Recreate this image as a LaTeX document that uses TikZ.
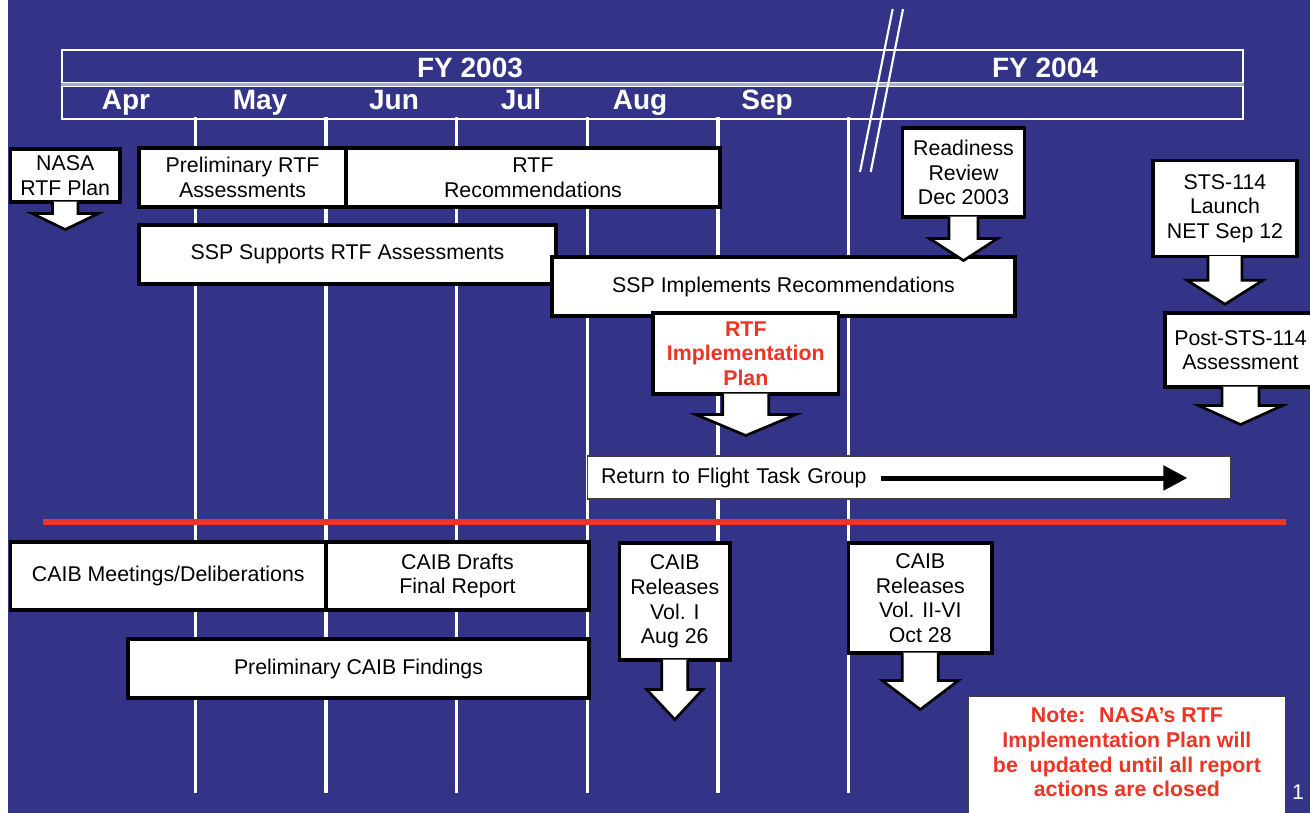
\documentclass[tikz,border=0pt]{standalone}
\usepackage{fontspec}
\setmainfont{Liberation Sans}
\usetikzlibrary{calc,arrows.meta}
\definecolor{nasablue}{HTML}{333387}
\definecolor{rtfred}{HTML}{EE3424}
\definecolor{lavender}{HTML}{A9A9DA}
\newcommand{\dropArrow}[5]{%
  \path[blockarr] ($(#1.south)+(-#2,-2)$) -- ++(0,#4+2) -- ++(#2-#3,0) -- ++(#3,#5)
    -- ++(#3,-#5) -- ++(#2-#3,0) -- ++(0,-#4-2);}

\begin{document}
\begin{tikzpicture}[x=0.75pt, y=-0.75pt,
  sz/.style 2 args={minimum width=#1*0.75pt, minimum height=#2*0.75pt},
  box/.style={draw=black, fill=white, line width=2.3pt, inner sep=2pt, align=center,
    font=\fontsize{16}{18.5}\selectfont},
  thinbox/.style={box, draw=black!75, line width=0.8pt},
  hot/.style={text=rtfred, font=\bfseries\fontsize{16}{18.5}\selectfont},
  blockarr/.style={fill=white, draw=black, line width=2pt},
  monthline/.style={white, line width=2.4pt},
  hdr/.style={text=white, font=\bfseries\fontsize{21}{24}\selectfont, anchor=base}
]
\useasboundingbox (0,0) rectangle (1310,813);
\fill[white] (0,0) rectangle (1310,813);
\fill[nasablue] (8,0) rectangle (1310,813);

\foreach \x in {195.7,326,456.6,587.5,718,848.6}
  \draw[monthline] (\x,117) -- (\x,793);

\node[draw=white, line width=2pt, sz={1181}{69}] (head) at (652.5,84.5) {};
\fill[lavender] ($(head.west)+(0,-2.3)$) rectangle ($(head.east)+(0,2.3)$);
\draw[white, line width=1.2pt] ($(head.west)+(0,-2)$) -- ($(head.east)+(0,-2)$);
\draw[white, line width=1.2pt] ($(head.west)+(0,2)$) -- ($(head.east)+(0,2)$);
\node[hdr] (fy3) at (470,77.7) {FY 2003};
\node[hdr] (fy4) at (1045,77.7) {FY 2004};
\foreach \m/\x in {Apr/126,May/260,Jun/394,Jul/521,Aug/640,Sep/767}
  \node[hdr] (m\m) at (\x,110) {\m};

\node[box, sz={109.5}{53}] (plan) at (65.25,175.5) {NASA\\RTF Plan};
\node[box, sz={207}{59}] (prelim) at (242.5,177.5) {Preliminary RTF\\Assessments};
\node[box, sz={374}{59}] (recs) at (533,177.5) {RTF\\Recommendations};
\node[box, sz={417}{59}] (sspsup) at (347.5,254.5) {SSP Supports RTF Assessments};
\node[box, sz={463}{59}] (sspimp) at (783.5,286.5) {SSP Implements Recommendations};
\node[box, sz={122}{89}] (ready) at (963.5,172.5) {Readiness\\Review\\Dec 2003};
\node[box, sz={144}{96}] (launch) at (1225,208.7) {STS-114\\Launch\\NET Sep 12};
\node[box, hot, sz={185.6}{81}] (impl) at (745.8,353.5) {RTF\\Implementation\\Plan};
\node[box, sz={151}{74}] (post) at (1240.5,350) {Post-STS-114\\Assessment};
\node[thinbox, sz={643}{43}, inner xsep=10pt, text width=462pt, align=left] (rtf)
  at (909,477.5) {Return to Flight Task Group};

\dropArrow{plan}{12.7}{33}{10}{16}
\dropArrow{ready}{14.5}{34}{20}{22}
\dropArrow{launch}{17}{38}{22}{24}
\dropArrow{impl}{23}{50}{19}{21}
\dropArrow{post}{18.5}{42}{17}{19}

\coordinate (rtfFrom) at ($(rtf.west)+(294.4,0.5)$);
\coordinate (rtfTo) at ($(rtf.east)+(-43.6,0.5)$);
\draw[line width=3.75pt, -{Triangle[length=18pt,width=18pt]}] (rtfFrom) -- (rtfTo);

\draw[rtfred, line width=4.5pt] (43,522) -- (1285.5,522);

\node[box, sz={315.5}{68}] (meet) at (168.3,576) {CAIB Meetings/Deliberations};
\node[box, sz={263}{68}] (drafts) at (457.5,576) {CAIB Drafts\\Final Report};
\node[box, sz={461}{59}] (findings) at (358.5,668.5) {Preliminary CAIB Findings};
\node[box, sz={110.4}{117}] (volone) at (674.8,601.5) {CAIB\\Releases\\Vol. I\\Aug 26};
\node[box, sz={143.4}{110}] (voltwo) at (920.3,598) {CAIB\\Releases\\Vol. II-VI\\Oct 28};

\dropArrow{volone}{13}{28}{28}{30}
\dropArrow{voltwo}{18}{38}{26}{29}

\node[thinbox, sz={316.3}{140}, anchor=north] (noteBox) at (1126.9,695.7) {};
\node[hot, align=center] (note) at (1126.9,752.5)
  {Note:~ NASA’s RTF\\Implementation Plan will\\be~ updated until all report\\actions are closed};
\node[text=white, font=\fontsize{16}{18.5}\selectfont] (pg) at (1298,792) {1};

\draw[white, line width=1.6pt] (892.7,9) -- (860,172);
\draw[white, line width=1.6pt] (903,9) -- (870.7,172);
\end{tikzpicture}
\end{document}
